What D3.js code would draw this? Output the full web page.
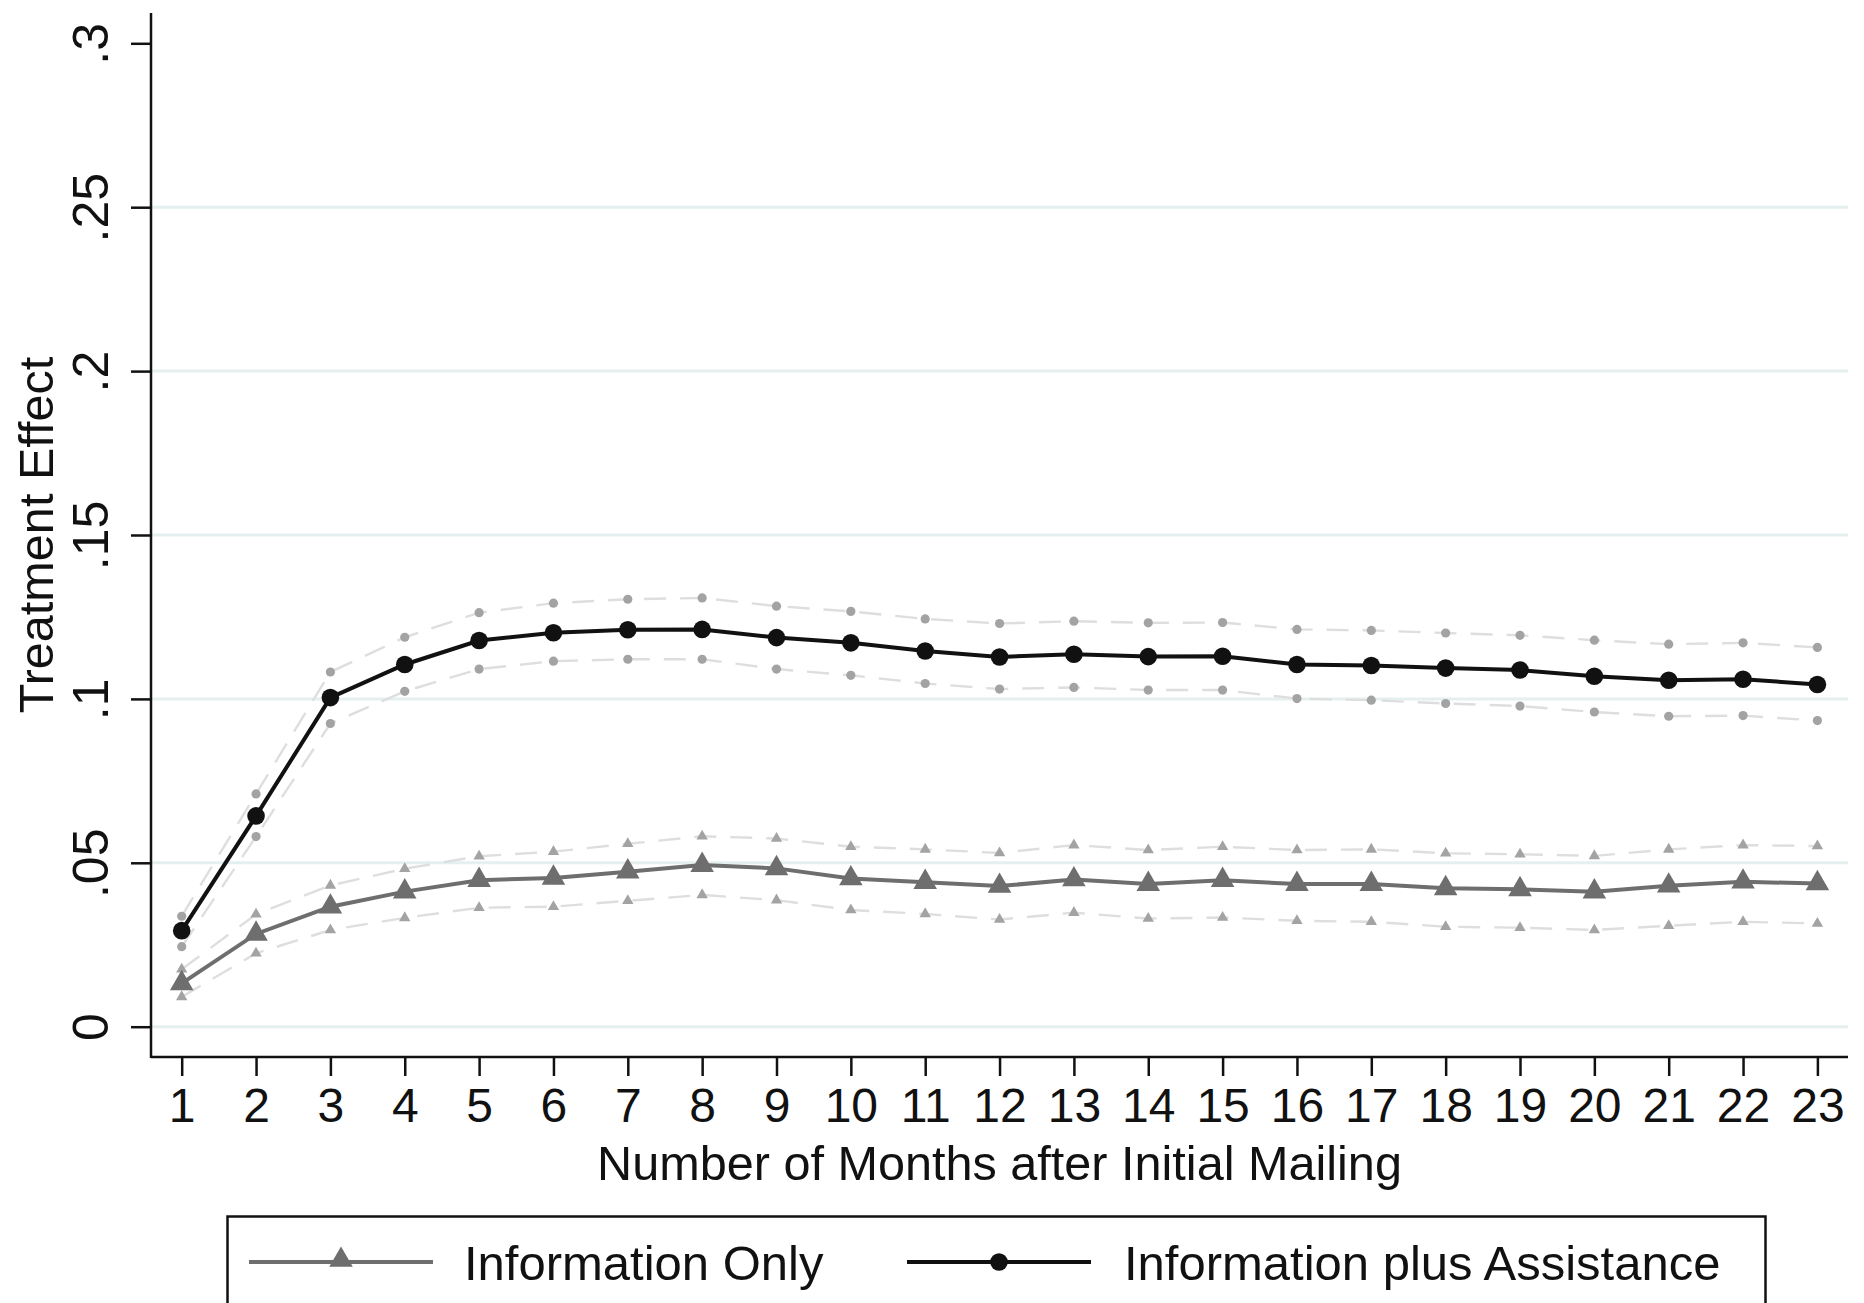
<!DOCTYPE html>
<html>
<head>
<meta charset="utf-8">
<script src="https://cdn.jsdelivr.net/npm/d3@7"></script>
<style>
  body { margin: 0; background: #fff; }
  svg { display: block; font-family: "Liberation Sans", Arial, Helvetica, sans-serif; }
</style>
</head>
<body>
<svg id="chart" width="1864" height="1303"></svg>
<script>
const months = d3.range(1, 24);
const yTicks = [0, 0.05, 0.1, 0.15, 0.2, 0.25, 0.3];
const gridTicks = [0, 0.05, 0.1, 0.15, 0.2, 0.25];

const assist   = [0.0293, 0.0643, 0.1004, 0.1105, 0.1178, 0.1202, 0.1211, 0.1212, 0.1187, 0.1171, 0.1146, 0.1128, 0.1136, 0.1129, 0.1130, 0.1105, 0.1102, 0.1094, 0.1088, 0.1069, 0.1057, 0.1060, 0.1044];
const assistHi = [0.0337, 0.0710, 0.1082, 0.1188, 0.1263, 0.1292, 0.1304, 0.1308, 0.1283, 0.1267, 0.1244, 0.1230, 0.1237, 0.1232, 0.1233, 0.1212, 0.1209, 0.1201, 0.1194, 0.1179, 0.1167, 0.1171, 0.1157];
const assistLo = [0.0244, 0.0580, 0.0925, 0.1023, 0.1091, 0.1115, 0.1121, 0.1121, 0.1091, 0.1072, 0.1047, 0.1030, 0.1035, 0.1027, 0.1027, 0.1001, 0.0996, 0.0986, 0.0978, 0.0960, 0.0947, 0.0949, 0.0934];

const info   = [0.0132, 0.0283, 0.0366, 0.0412, 0.0447, 0.0454, 0.0473, 0.0493, 0.0483, 0.0452, 0.0441, 0.0429, 0.0449, 0.0435, 0.0447, 0.0435, 0.0435, 0.0422, 0.0419, 0.0412, 0.0430, 0.0442, 0.0437];
const infoHi = [0.0175, 0.0343, 0.0431, 0.0482, 0.0520, 0.0534, 0.0558, 0.0581, 0.0574, 0.0549, 0.0541, 0.0530, 0.0554, 0.0539, 0.0549, 0.0539, 0.0541, 0.0529, 0.0526, 0.0521, 0.0541, 0.0554, 0.0551];
const infoLo = [0.0091, 0.0224, 0.0295, 0.0332, 0.0363, 0.0366, 0.0384, 0.0402, 0.0386, 0.0356, 0.0344, 0.0327, 0.0348, 0.0330, 0.0333, 0.0323, 0.0320, 0.0305, 0.0302, 0.0295, 0.0308, 0.0320, 0.0315];

const legendLabels = ["Information Only", "Information plus Assistance"];

const svg = d3.select("#chart");
const plot = { left: 151, right: 1848, top: 13, bottom: 1057 };

const x = d3.scaleLinear().domain([1, 23]).range([181.7, 1817.4]);
const y = d3.scaleLinear().domain([0, 0.3]).range([1026.7, 43.3]);

const fmt = d => d === 0 ? "0" : d3.format(".2~f")(d).replace(/^0/, "");

// gridlines
svg.append("g")
  .selectAll("line")
  .data(gridTicks)
  .join("line")
    .attr("x1", plot.left)
    .attr("x2", plot.right)
    .attr("y1", d => y(d))
    .attr("y2", d => y(d))
    .attr("stroke", "#e6efef")
    .attr("stroke-width", 3);

// axes
const yAxis = svg.append("g")
  .attr("transform", `translate(${plot.left},0)`)
  .call(d3.axisLeft(y).tickValues(yTicks).tickFormat(fmt).tickSize(20).tickSizeOuter(0));
yAxis.select(".domain").remove();
yAxis.selectAll(".tick line").attr("stroke", "#111").attr("stroke-width", 2.5);
yAxis.selectAll(".tick text")
  .attr("x", 0)
  .attr("dy", 0)
  .attr("text-anchor", "middle")
  .attr("transform", "translate(-43,0) rotate(-90)")
  .attr("fill", "#111")
  .style("font-size", "50px")
  .style("font-family", "'Liberation Sans', Arial, sans-serif");

const xAxis = svg.append("g")
  .attr("transform", `translate(0,${plot.bottom})`)
  .call(d3.axisBottom(x).tickValues(months).tickFormat(d3.format("d")).tickSize(19).tickSizeOuter(0));
xAxis.select(".domain").remove();
xAxis.selectAll(".tick line").attr("stroke", "#111").attr("stroke-width", 2.5);
xAxis.selectAll(".tick text")
  .attr("y", 65)
  .attr("dy", 0)
  .attr("fill", "#111")
  .style("font-size", "48px")
  .style("font-family", "'Liberation Sans', Arial, sans-serif");

svg.append("line")
  .attr("x1", plot.left).attr("x2", plot.left)
  .attr("y1", plot.top).attr("y2", plot.bottom + 1)
  .attr("stroke", "#111").attr("stroke-width", 2.5);
svg.append("line")
  .attr("x1", plot.left).attr("x2", plot.right)
  .attr("y1", plot.bottom).attr("y2", plot.bottom)
  .attr("stroke", "#111").attr("stroke-width", 2.5);

// axis titles
svg.append("text")
  .attr("transform", `translate(53,${(y(0) + y(0.3)) / 2}) rotate(-90)`)
  .attr("text-anchor", "middle")
  .attr("fill", "#111")
  .style("font-size", "48.6px")
  .text("Treatment Effect");

svg.append("text")
  .attr("x", (plot.left + plot.right) / 2)
  .attr("y", 1180)
  .attr("text-anchor", "middle")
  .attr("fill", "#111")
  .style("font-size", "48.6px")
  .text("Number of Months after Initial Mailing");

const line = d3.line().x((d, i) => x(months[i])).y(d => y(d));
const triBig = d3.symbol().type(d3.symbolTriangle).size(240);
const triSmall = d3.symbol().type(d3.symbolTriangle).size(56);

// confidence bands (dashed)
const ciSeries = [
  { vals: assistHi, marker: "circle" },
  { vals: assistLo, marker: "circle" },
  { vals: infoHi, marker: "tri" },
  { vals: infoLo, marker: "tri" }
];

ciSeries.forEach(s => {
  svg.append("path")
    .attr("d", line(s.vals))
    .attr("fill", "none")
    .attr("stroke", "#dedede")
    .attr("stroke-width", 2.4)
    .attr("stroke-dasharray", "22,14");
  if (s.marker === "circle") {
    svg.append("g").selectAll("circle")
      .data(s.vals)
      .join("circle")
        .attr("cx", (d, i) => x(months[i]))
        .attr("cy", d => y(d))
        .attr("r", 4.6)
        .attr("fill", "#a3a3a3");
  } else {
    svg.append("g").selectAll("path")
      .data(s.vals)
      .join("path")
        .attr("d", triSmall)
        .attr("transform", (d, i) => `translate(${x(months[i])},${y(d)})`)
        .attr("fill", "#a3a3a3");
  }
});

// main series
svg.append("path")
  .attr("d", line(info))
  .attr("fill", "none")
  .attr("stroke", "#6e6e6e")
  .attr("stroke-width", 4);
svg.append("g").selectAll("path")
  .data(info)
  .join("path")
    .attr("d", triBig)
    .attr("transform", (d, i) => `translate(${x(months[i])},${y(d)})`)
    .attr("fill", "#6e6e6e");

svg.append("path")
  .attr("d", line(assist))
  .attr("fill", "none")
  .attr("stroke", "#111")
  .attr("stroke-width", 4);
svg.append("g").selectAll("circle")
  .data(assist)
  .join("circle")
    .attr("cx", (d, i) => x(months[i]))
    .attr("cy", d => y(d))
    .attr("r", 8.8)
    .attr("fill", "#111");

// legend
const legend = svg.append("g");
legend.append("rect")
  .attr("x", 227.5)
  .attr("y", 1216.5)
  .attr("width", 1538)
  .attr("height", 120)
  .attr("fill", "#fff")
  .attr("stroke", "#111")
  .attr("stroke-width", 2.5);

const legendItems = [
  { x1: 249, x2: 433, color: "#6e6e6e", marker: "tri", tx: 464 },
  { x1: 907, x2: 1091, color: "#111", marker: "circle", tx: 1124 }
];
const ly = 1262;
legendItems.forEach((it, i) => {
  legend.append("line")
    .attr("x1", it.x1).attr("x2", it.x2)
    .attr("y1", ly).attr("y2", ly)
    .attr("stroke", it.color)
    .attr("stroke-width", 4);
  const mx = (it.x1 + it.x2) / 2;
  if (it.marker === "tri") {
    legend.append("path")
      .attr("d", triBig)
      .attr("transform", `translate(${mx},${ly - 2})`)
      .attr("fill", it.color);
  } else {
    legend.append("circle")
      .attr("cx", mx).attr("cy", ly)
      .attr("r", 8.8)
      .attr("fill", it.color);
  }
  legend.append("text")
    .attr("x", it.tx)
    .attr("y", 1280)
    .attr("fill", "#111")
    .style("font-size", "49px")
    .text(legendLabels[i]);
});
</script>
</body>
</html>
